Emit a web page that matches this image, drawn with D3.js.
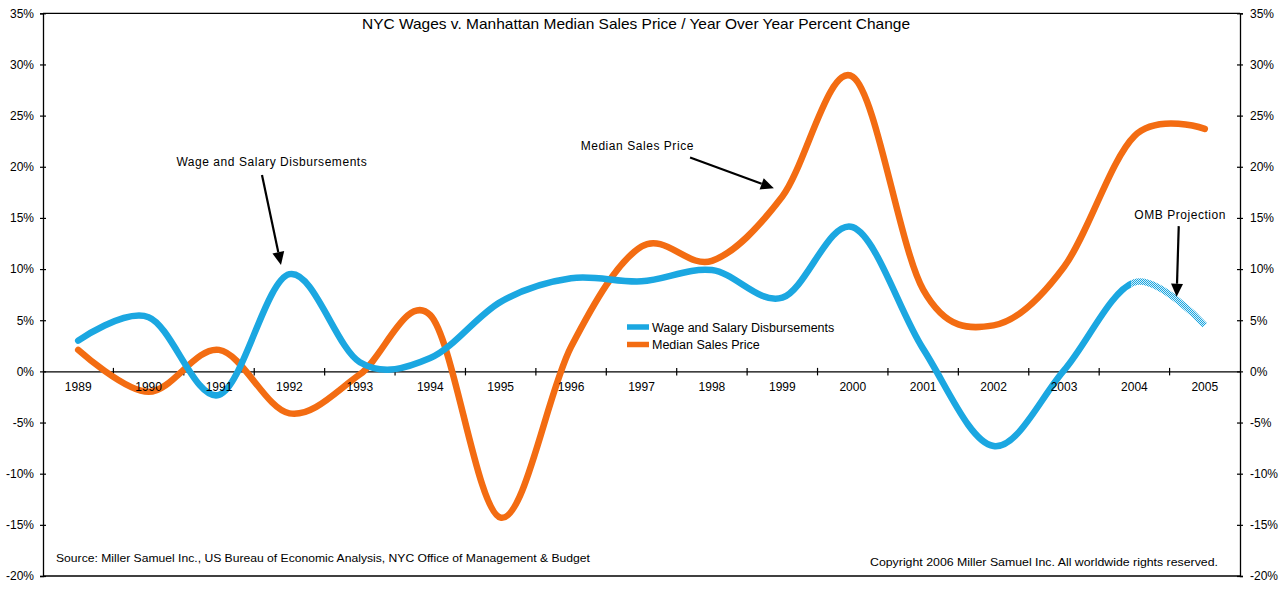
<!DOCTYPE html>
<html><head><meta charset="utf-8">
<script src="https://cdn.jsdelivr.net/npm/d3@7"></script>
<style>
body{margin:0;background:#fff}
svg{display:block}
text{font-family:"Liberation Sans",Arial,Helvetica,sans-serif;fill:#000}
</style>
</head><body>
<svg id="chart" width="1285" height="593"></svg>
<script>
// ---------------- data ----------------
const years = ["1989","1990","1991","1992","1993","1994","1995","1996","1997","1998","1999","2000","2001","2002","2003","2004","2005"];
const wages = [3.0, 5.3, -2.3, 9.5, 0.9, 1.3, 6.8, 9.1, 8.8, 9.9, 7.2, 14.1, 2.2, -7.3, 0.1, 8.7, 4.5];
const salesPrice = [2.1, -2.0, 2.1, -4.1, -0.3, 5.5, -14.3, 2.4, 12.2, 10.8, 17.1, 28.8, 8.0, 4.5, 10.2, 23.0, 23.7];
const yTicks = [-20, -15, -10, -5, 0, 5, 10, 15, 20, 25, 30, 35];
const projectionStart = "2004";
const seriesNames = ["Wage and Salary Disbursements", "Median Sales Price"];
const chartTitle = "NYC Wages v. Manhattan Median Sales Price / Year Over Year Percent Change";
const sourceNote = "Source: Miller Samuel Inc., US Bureau of Economic Analysis, NYC Office of Management & Budget";
const copyrightNote = "Copyright 2006 Miller Samuel Inc.  All worldwide rights reserved.";
// annotations in data space: [year index, percent]
const annotations = [
  {text: "Wage and Salary Disbursements", at: [2.75, 20.5], from: [2.61, 19.2], to: [2.88, 10.4]},
  {text: "Median Sales Price", at: [7.94, 22.1], from: [8.69, 20.9], to: [9.88, 17.9]},
  {text: "OMB Projection", at: [15.65, 15.3], from: [15.63, 14.2], to: [15.6, 7.3]}
];

// ---------------- layout ----------------
const W = 1285, H = 593;
const mLeft = 43, mRight = 1240, mTop = 13.3, mBottom = 576;
const blue = "#1ba7e1", orange = "#f36c12";

const svg = d3.select("#chart");

const x = d3.scaleBand().domain(years).range([mLeft, mRight]).padding(0);
const xi = d3.scaleLinear().domain([-0.5, years.length - 0.5]).range([mLeft, mRight]);
const y = d3.scaleLinear().domain([-20, 35]).range([mBottom, mTop]);

// defs: hatch pattern + clips
const defs = svg.append("defs");
const pat = defs.append("pattern").attr("id","hatch").attr("patternUnits","userSpaceOnUse")
  .attr("width",2).attr("height",2);
pat.append("rect").attr("width",2).attr("height",2).attr("fill","#d8eff9");
pat.append("rect").attr("width",1).attr("height",1).attr("fill",blue);
pat.append("rect").attr("x",1).attr("y",1).attr("width",1).attr("height",1).attr("fill",blue);

const pIdx = years.indexOf(projectionStart);
const cut = xi(pIdx) - 3;
defs.append("clipPath").attr("id","solidClip").append("rect")
  .attr("x",0).attr("y",0).attr("width",cut).attr("height",H);
defs.append("clipPath").attr("id","projClip").append("rect")
  .attr("x",cut).attr("y",0).attr("width",W-cut).attr("height",H);

// frame: top and bottom border
svg.append("line").attr("x1",mLeft).attr("x2",mRight).attr("y1",y(35)).attr("y2",y(35))
  .attr("stroke","#000").attr("stroke-width",1.3);
svg.append("line").attr("x1",mLeft).attr("x2",mRight).attr("y1",y(-20)).attr("y2",y(-20))
  .attr("stroke","#000").attr("stroke-width",1.3);

// left axis
const fmt = d => d + "%";
const gl = svg.append("g").attr("transform",`translate(${mLeft},0)`)
  .call(d3.axisLeft(y).tickValues(yTicks).tickFormat(fmt).tickSize(3).tickPadding(6));
gl.selectAll(".tick line").attr("x1",-3).attr("x2",3);
// right axis
const gr = svg.append("g").attr("transform",`translate(${mRight},0)`)
  .call(d3.axisRight(y).tickValues(yTicks).tickFormat(fmt).tickSize(3).tickPadding(7));
gr.selectAll(".tick line").attr("x1",-3).attr("x2",3);
[gl,gr].forEach(g=>{
  g.select(".domain").attr("stroke","#000").attr("stroke-width",1.3);
  g.selectAll(".tick line").attr("stroke","#000").attr("stroke-width",1.2);
  g.selectAll(".tick text").attr("font-size",12).attr("font-family",'"Liberation Sans",Arial,sans-serif').attr("fill","#000");
});

// x axis at 0%
const gx = svg.append("g").attr("transform",`translate(0,${y(0)})`)
  .call(d3.axisBottom(x).tickSize(0).tickPadding(11));
gx.select(".domain").attr("stroke","#000").attr("stroke-width",1.3);
gx.selectAll(".tick text").attr("font-size",12).attr("font-family",'"Liberation Sans",Arial,sans-serif').attr("fill","#000");
gx.selectAll(".bnd").data(years.slice(1)).join("line").attr("class","bnd")
  .attr("x1",d=>x(d)).attr("x2",d=>x(d)).attr("y1",-3.5).attr("y2",4)
  .attr("stroke","#000").attr("stroke-width",1.2);

// lines
const line = d3.line().x((d,i)=>x(years[i]) + x.bandwidth()/2).y(d=>y(d)).curve(d3.curveCardinal.tension(0));

svg.append("path").datum(salesPrice).attr("d",line)
  .attr("fill","none").attr("stroke",orange).attr("stroke-width",6.5).attr("stroke-linejoin","round").attr("stroke-linecap","round");
svg.append("path").datum(wages).attr("d",line).attr("clip-path","url(#solidClip)")
  .attr("fill","none").attr("stroke",blue).attr("stroke-width",6.5).attr("stroke-linejoin","round").attr("stroke-linecap","round");
svg.append("path").datum(wages).attr("d",line).attr("clip-path","url(#projClip)")
  .attr("fill","none").attr("stroke","url(#hatch)").attr("stroke-width",6.5).attr("stroke-linejoin","round").attr("stroke-linecap","butt");

// year labels drawn above the lines
gx.selectAll(".tick text").each(function(){
  const t = d3.select(this);
  const tr = d3.select(this.parentNode).attr("transform");
  svg.append("text").attr("transform",`translate(0,${y(0)}) ${tr}`)
    .attr("y",t.attr("y")).attr("dy",t.attr("dy")).attr("text-anchor","middle")
    .attr("font-size",12).text(t.text());
  t.remove();
});

// legend
const lg = svg.append("g").attr("transform","translate(627,327)");
[blue, orange].forEach((c,i)=>{
  lg.append("line").attr("x1",0).attr("x2",22).attr("y1",i*17.5).attr("y2",i*17.5)
    .attr("stroke",c).attr("stroke-width",5.5);
  lg.append("text").attr("x",25).attr("y",i*17.5+4.5).attr("font-size",12.5).text(seriesNames[i]);
});

// annotations
annotations.forEach(a=>{
  svg.append("text").attr("x",xi(a.at[0])).attr("y",y(a.at[1])+4.5)
    .attr("text-anchor","middle").attr("font-size",12).attr("letter-spacing",0.55).text(a.text);
  const x1 = xi(a.from[0]), y1 = y(a.from[1]), x2 = xi(a.to[0]), y2 = y(a.to[1]);
  const ang = Math.atan2(y2-y1, x2-x1);
  const L = 13, hw = 6;
  const bx = x2 - L*Math.cos(ang), by = y2 - L*Math.sin(ang);
  svg.append("line").attr("x1",x1).attr("y1",y1).attr("x2",bx).attr("y2",by)
    .attr("stroke","#000").attr("stroke-width",2.2);
  const px = -Math.sin(ang), py = Math.cos(ang);
  svg.append("path").attr("d",`M${x2},${y2}L${bx+px*hw},${by+py*hw}L${bx-px*hw},${by-py*hw}Z`).attr("fill","#000");
});

// title & notes
svg.append("text").attr("x",636).attr("y",28.5).attr("text-anchor","middle").attr("font-size",15)
  .attr("textLength",548).attr("lengthAdjust","spacingAndGlyphs").text(chartTitle);
svg.append("text").attr("x",56).attr("y",562).attr("font-size",11.5)
  .attr("textLength",534).attr("lengthAdjust","spacingAndGlyphs").text(sourceNote);
svg.append("text").attr("x",870).attr("y",566).attr("font-size",11.5)
  .attr("textLength",348).attr("lengthAdjust","spacingAndGlyphs").text(copyrightNote);
</script>
</body></html>
